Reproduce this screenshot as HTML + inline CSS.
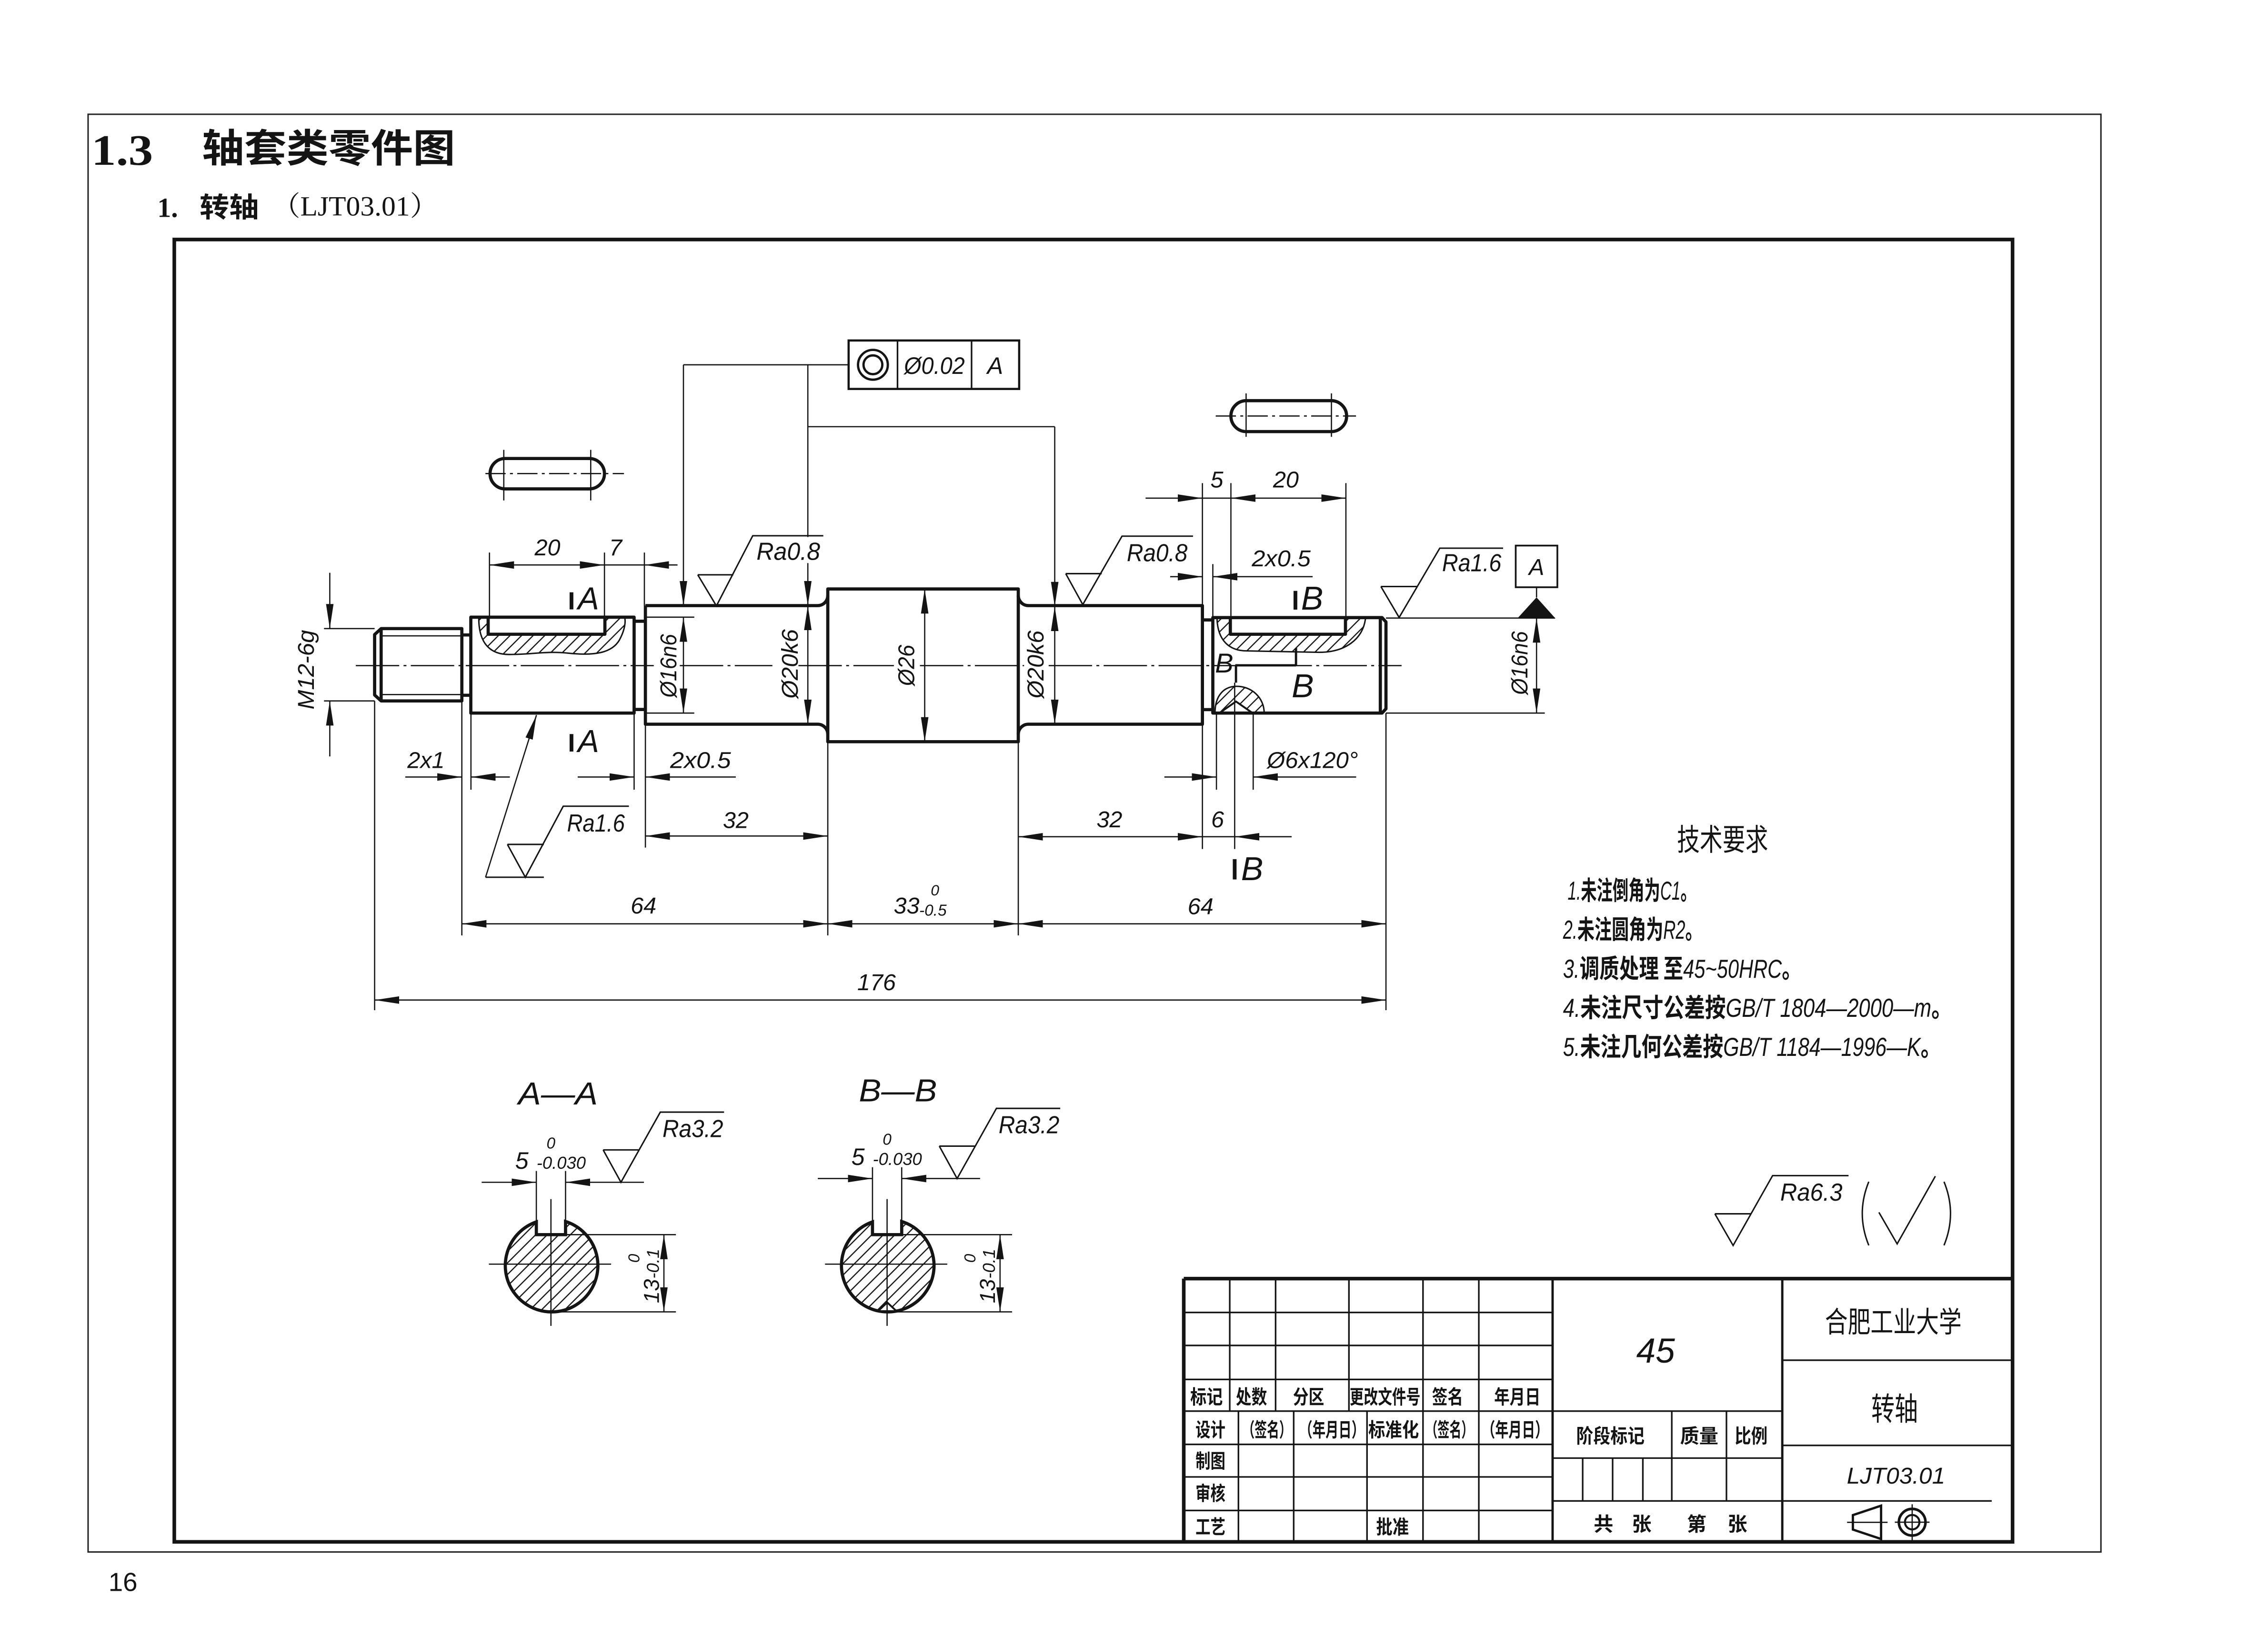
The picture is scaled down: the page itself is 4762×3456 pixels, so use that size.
<!DOCTYPE html>
<html><head><meta charset="utf-8">
<style>
html,body{margin:0;padding:0;background:#fff;width:4762px;height:3456px;overflow:hidden}
svg{display:block}
text{font-family:"Liberation Sans","Noto Sans CJK SC",sans-serif;fill:#141414}
.it{font-style:italic}
.cj{font-family:"Noto Sans CJK SC","WenQuanYi Zen Hei",sans-serif;font-weight:700}
.cr{font-family:"Noto Sans CJK SC","WenQuanYi Zen Hei",sans-serif;font-weight:400}
.k{fill:none;stroke:#141414;stroke-width:2.2;stroke-linejoin:round}
.t{fill:none;stroke:#141414;stroke-width:0.85}
.m{fill:none;stroke:#141414;stroke-width:0.85;marker-end:url(#ar)}
.b{fill:none;stroke:#141414;stroke-width:0.85;marker-start:url(#ar);marker-end:url(#ar)}
.c{fill:none;stroke:#141414;stroke-width:0.85;stroke-dasharray:30 3 2 3}
.g{fill:none;stroke:#141414;stroke-width:1.1}
.r{fill:none;stroke:#141414;stroke-width:1}
</style></head><body>
<svg xmlns="http://www.w3.org/2000/svg" width="4762" height="3456" viewBox="0 0 1568 1138" preserveAspectRatio="none">
<defs>
<marker id="ar" viewBox="0 0 17 6" refX="17" refY="3" markerWidth="17" markerHeight="6" markerUnits="userSpaceOnUse" orient="auto-start-reverse"><path d="M0,0.4 L17,3 L0,5.6 Z" fill="#141414"/></marker>
<pattern id="h" patternUnits="userSpaceOnUse" width="8" height="8"><path d="M0,8 L8,0 M-2,2 L2,-2 M6,10 L10,6" stroke="#141414" stroke-width="0.8"/></pattern>
</defs>
<rect x="0" y="0" width="1568" height="1138" fill="#fff"/>

<!-- page border -->
<rect x="60.9" y="79" width="1391.6" height="994" fill="none" stroke="#222" stroke-width="1"/>
<text x="63.2" y="114" style="font-family:'Liberation Serif',serif;font-weight:700;font-size:30px" textLength="42.6" lengthAdjust="spacingAndGlyphs">1.3</text>
<text x="139.7" y="112" class="cj" style="font-size:27px" textLength="175" lengthAdjust="spacingAndGlyphs">轴套类零件图</text>
<text x="108.8" y="150" style="font-family:'Liberation Serif',serif;font-weight:700;font-size:19px">1.</text>
<text x="138" y="150" class="cj" style="font-size:19px" textLength="41" lengthAdjust="spacingAndGlyphs">转轴</text>
<text x="188" y="149" style="font-family:'Liberation Serif','Noto Serif CJK SC',serif;font-size:19px" textLength="115" lengthAdjust="spacingAndGlyphs">（LJT03.01）</text>
<text x="75" y="1100" style="font-size:18px">16</text>

<!-- drawing frame -->
<rect x="120.5" y="165.6" width="1270.9" height="900.4" fill="none" stroke="#141414" stroke-width="2.5"/>

<!-- ===== main shaft ===== -->
<path class="c" d="M246,460.2 H452 M470,460.2 H534 M552,460.2 H618 M636,460.2 H708 M725,460.2 H969"/>

<!-- thread -->
<path class="k" d="M263.5,434.6 H319.3 V484.6 H263.5 L259,480.5 V438.7 Z M263.5,434.6 V484.6"/>
<path class="t" d="M263.5,439.6 H319.3 M263.5,480.2 H319.3"/>
<path class="k" d="M319.3,439 H325.5 M319.3,480.7 H325.5"/>

<!-- keyway A local section -->
<path fill="url(#h)" d="M331,427.5 C331,446 340,452.5 352,452.5 C368,452.5 378,450 392,451.5 C410,453.5 424,452 429,441 C432,435 432.5,430 432,427.5 Z"/>
<rect fill="#fff" x="337.5" y="427" width="80.7" height="11.5"/>
<path class="r" d="M331,427.5 C331,446 340,452.5 352,452.5 C368,452.5 378,450 392,451.5 C410,453.5 424,452 429,441 C432,435 432.5,430 432,427.5"/>
<path class="k" d="M337.5,427 V438.5 H418.2 V427"/>

<!-- section 2 -->
<path class="k" d="M325.5,426.7 H438.4 V493 H325.5 Z"/>
<path class="k" d="M438.4,429.5 H446.2 M438.4,490.5 H446.2"/>
<!-- section 3 -->
<path class="k" d="M446.2,418.7 H565.3 A7,7 0 0 0 572.3,411.7 M446.2,418.7 V500.7 H565.3 A7,7 0 0 1 572.3,507.7"/>
<!-- section 4 -->
<rect class="k" x="572.3" y="407.2" width="131.7" height="105.6"/>
<!-- section 5 -->
<path class="k" d="M704,411.7 A7,7 0 0 0 711,418.7 H831.3 V500.7 H711 A7,7 0 0 0 704,507.7"/>
<path class="k" d="M831.3,428.6 H838.5 M831.3,490.6 H838.5"/>

<!-- keyway B local section -->
<path fill="url(#h)" d="M841.4,428 C842,443 850,450 862,450 L912,451 C930,451 942,442 944,428 Z"/>
<rect fill="#fff" x="850.6" y="427" width="79.6" height="11.5"/>
<path class="r" d="M841.4,428 C842,443 850,450 862,450 L912,451 C930,451 942,442 944,428"/>
<path class="k" d="M850.6,427 V438.5 H930.2 V427"/>
<!-- centre hole -->
<path fill="url(#h)" d="M840,493 C840,481 846,474.5 855,474.5 C865,474.5 874,482 874,493 Z"/>
<path fill="#fff" stroke="#141414" stroke-width="1.3" d="M843,493 L854.5,485 L866,493 Z"/>
<path class="r" d="M840,493 C840,481 846,474.5 855,474.5 C865,474.5 874,482 874,493"/>
<!-- section 6 -->
<path class="k" d="M838.5,427 H955.5 L958.2,430 V490 L955.5,493 H838.5 Z M954.3,427 V493"/>

<!-- B cut indicator -->
<path fill="none" stroke="#141414" stroke-width="1.6" d="M854,460 H896 M896,448 V460 M854.5,460 V472"/>
<text x="840" y="465" class="it" style="font-size:19px">B</text>
<text x="893" y="482" class="it" style="font-size:23px">B</text>

<!-- section marks -->
<path fill="none" stroke="#141414" stroke-width="2.6" d="M395.1,409.5 V421.3 M395.1,507.5 V519.6 M895.6,408.5 V421.5 M853.6,594 V608"/>
<text x="399.5" y="421.3" class="it" style="font-size:22px">A</text>
<text x="399.5" y="520" class="it" style="font-size:22px">A</text>
<text x="899.5" y="421.5" class="it" style="font-size:23px">B</text>
<text x="858" y="608.5" class="it" style="font-size:23px">B</text>

<!-- keyway top views -->
<rect class="k" x="338.8" y="317" width="79.1" height="21" rx="10.5" ry="10.5"/>
<path class="t" d="M348.3,311 V346 M408.4,311 V346"/>
<path class="c" d="M335.6,327.4 H431.4" style="stroke-dasharray:14 3 2 3"/>
<rect class="k" x="851" y="277" width="80" height="21.4" rx="10.7" ry="10.7"/>
<path class="t" d="M861.5,272 V302 M920.5,272 V302"/>
<path class="c" d="M840.5,287.6 H937.5" style="stroke-dasharray:14 3 2 3"/>

<!-- GD&T frame -->
<rect x="586.7" y="235.4" width="117.9" height="33.5" fill="none" stroke="#141414" stroke-width="1.5"/>
<path class="g" d="M620.5,235.4 V268.9 M671.7,235.4 V268.9"/>
<circle cx="603.5" cy="252.2" r="10.3" fill="none" stroke="#141414" stroke-width="1.6"/>
<circle cx="603.5" cy="252.2" r="6.5" fill="none" stroke="#141414" stroke-width="1.6"/>
<text x="646" y="258.5" text-anchor="middle" class="it" style="font-size:16.5px" textLength="42" lengthAdjust="spacingAndGlyphs">Ø0.02</text>
<text x="688" y="258.5" text-anchor="middle" class="it" style="font-size:16.5px">A</text>
<path class="t" d="M586.7,252.2 H472.5 M558.5,295 H729.2"/>
<path class="m" d="M472.5,252.2 V418.7"/>
<path class="m" d="M558.5,252.2 V418.7"/>
<path class="m" d="M729.2,295 V419.3"/>

<!-- diameter dims -->
<path class="t" d="M224,434.6 H259 M224,484.6 H259"/>
<path class="m" d="M228,396 V434.6"/>
<path class="m" d="M228,523 V484.6"/>
<text transform="translate(217,463) rotate(-90)" text-anchor="middle" class="it" style="font-size:16px" textLength="55" lengthAdjust="spacingAndGlyphs">M12-6g</text>

<path class="t" d="M446.2,426.7 H480 M446.2,493 H480"/>
<path class="b" d="M472.5,426.7 V493"/>
<text transform="translate(467.5,460.3) rotate(-90)" text-anchor="middle" class="it" style="font-size:16px" textLength="44" lengthAdjust="spacingAndGlyphs">Ø16n6</text>
<path class="b" d="M558.5,418.7 V500.7"/>
<text transform="translate(551.5,459) rotate(-90)" text-anchor="middle" class="it" style="font-size:16px" textLength="48" lengthAdjust="spacingAndGlyphs">Ø20k6</text>
<path class="b" d="M639.3,407.2 V512.8"/>
<text transform="translate(632,460) rotate(-90)" text-anchor="middle" class="it" style="font-size:16px" textLength="28.5" lengthAdjust="spacingAndGlyphs">Ø26</text>
<path class="b" d="M729.2,419.3 V500.7"/>
<text transform="translate(721.5,459.4) rotate(-90)" text-anchor="middle" class="it" style="font-size:16px" textLength="47" lengthAdjust="spacingAndGlyphs">Ø20k6</text>
<path class="t" d="M958.2,427.3 H1075 M958.2,493 H1068"/>
<path class="b" d="M1062.3,427.3 V493"/>
<text transform="translate(1056,458.4) rotate(-90)" text-anchor="middle" class="it" style="font-size:16px" textLength="44" lengthAdjust="spacingAndGlyphs">Ø16n6</text>

<!-- datum A -->
<rect x="1047.9" y="377.2" width="28.8" height="28.8" fill="none" stroke="#141414" stroke-width="1.2"/>
<text x="1062.3" y="397.5" text-anchor="middle" class="it" style="font-size:16px">A</text>
<path class="t" d="M1062.3,406 V413"/>
<path d="M1049,427.6 L1075.4,427.6 L1062.3,413 Z" fill="#141414"/>

<!-- top dims left -->
<path class="t" d="M338.4,382 V427 M417.9,382 V427 M445.5,382 V418.7 M417.9,390.6 H445.5"/>
<path class="b" d="M338.4,390.6 H417.9"/>
<path class="m" d="M468.4,390.6 H445.5"/>
<text x="378.5" y="384" text-anchor="middle" class="it" style="font-size:16px">20</text>
<text x="425.6" y="384" text-anchor="middle" class="it" style="font-size:16px">7</text>

<!-- top dims right -->
<path class="t" d="M831.3,334 V419.3 M851,334 V427 M930.5,334 V427 M831.3,344.4 H851 M838.5,390 V427"/>
<path class="m" d="M792,344.4 H831.3"/>
<path class="b" d="M851,344.4 H930.5"/>
<text x="841.3" y="337" text-anchor="middle" class="it" style="font-size:16px">5</text>
<text x="889" y="337" text-anchor="middle" class="it" style="font-size:16px">20</text>
<path class="m" d="M809,398.7 H831.3"/>
<path class="m" d="M907.5,398.7 H838.5"/>
<text x="865.4" y="391.5" class="it" style="font-size:16px" textLength="40.7" lengthAdjust="spacingAndGlyphs">2x0.5</text>

<!-- bottom dims left -->
<path class="t" d="M325.6,493 V546 M319.3,484.6 V646.7 M259,484.6 V698.4 M438.4,493 V546 M446.2,500.7 V586 M572.3,512.8 V646.7 M704,512.8 V646.7"/>
<path class="m" d="M280.2,537.2 H319.3"/>
<path class="m" d="M352.5,537.2 H325.6"/>
<text x="294.5" y="531" text-anchor="middle" class="it" style="font-size:16px">2x1</text>
<path class="m" d="M399.4,537.2 H438.4"/>
<path class="m" d="M508.7,537.2 H446.2"/>
<text x="463.3" y="531" class="it" style="font-size:16px" textLength="42" lengthAdjust="spacingAndGlyphs">2x0.5</text>
<path class="b" d="M446.2,578 H572.3"/>
<text x="508.7" y="572.5" text-anchor="middle" class="it" style="font-size:16px">32</text>
<path class="b" d="M319.3,638.7 H572.3"/>
<text x="444.9" y="631.5" text-anchor="middle" class="it" style="font-size:16px">64</text>
<path class="b" d="M572.3,638.7 H704"/>
<text x="617.9" y="631.5" class="it" style="font-size:16px">33</text>
<text x="635.5" y="633" class="it" style="font-size:11px">-0.5</text>
<text x="646.4" y="619" text-anchor="middle" class="it" style="font-size:10.5px">0</text>
<path class="b" d="M704,638.7 H958.2"/>
<text x="830" y="632" text-anchor="middle" class="it" style="font-size:16px">64</text>
<path class="b" d="M259,691.4 H958.2"/>
<text x="606" y="684.5" text-anchor="middle" class="it" style="font-size:16px">176</text>

<!-- bottom dims right -->
<path class="t" d="M841,493 V546 M866.4,493 V546 M831.3,500.7 V587 M853.6,472 V587 M958.2,493 V698.4 M831.3,578.5 H853.6"/>
<path class="m" d="M805,537.2 H841"/>
<path class="m" d="M937.6,537.2 H866.4"/>
<text x="875.9" y="531" class="it" style="font-size:16px" textLength="63" lengthAdjust="spacingAndGlyphs">Ø6x120°</text>
<path class="b" d="M704,578.5 H831.3"/>
<path class="m" d="M893,578.5 H853.6"/>
<text x="767" y="572" text-anchor="middle" class="it" style="font-size:16px">32</text>
<text x="841.8" y="572" text-anchor="middle" class="it" style="font-size:16px">6</text>

<!-- roughness symbols -->
<rect x="552.5" y="371.3" width="12" height="18" fill="#fff"/>
<path class="r" d="M482.4,397.4 H507 M482.4,397.4 L495.3,418.9 L520.4,370.4 H569.2"/>
<text x="523" y="387" class="it" style="font-size:17px" textLength="44" lengthAdjust="spacingAndGlyphs">Ra0.8</text>
<path class="r" d="M736.8,396.6 H761.7 M736.8,396.6 L748.6,418 L775.7,370.7 H824.8"/>
<text x="779" y="388" class="it" style="font-size:17px" textLength="42" lengthAdjust="spacingAndGlyphs">Ra0.8</text>
<path class="r" d="M954.7,405.5 H979.6 M954.7,405.5 L967.3,426.9 L995.4,379 H1039.2"/>
<text x="997" y="395" class="it" style="font-size:17px" textLength="41" lengthAdjust="spacingAndGlyphs">Ra1.6</text>
<path class="m" d="M335.7,606.5 L370.9,494.4"/>
<path class="r" d="M335.7,606.5 H376 M350.8,583.8 H376 M350.8,583.8 L363.2,606.5 L389.4,557.4 H434.8"/>
<text x="392" y="575" class="it" style="font-size:17px" textLength="40" lengthAdjust="spacingAndGlyphs">Ra1.6</text>

<!-- ===== section A-A ===== -->
<text x="358.3" y="763.6" class="it" style="font-size:22px" textLength="55" lengthAdjust="spacingAndGlyphs">A—A</text>
<g>
<path fill="url(#h)" stroke="#141414" stroke-width="2.2" d="M370.8,844.8 V853.6 H391 V844.5 A32,32 0 1 1 370.8,844.8 Z"/>
<path class="t" d="M338,874 H422.5 M380.9,829 V916.7 M391,853.6 H467.3 M381.3,907 H467.3"/>
<path class="b" d="M459,853.6 V907"/>
</g>
<g transform="translate(455.5,901) rotate(-90)">
<text x="0" y="0" class="it" style="font-size:15px">13</text>
<text x="17" y="0" class="it" style="font-size:12px">-0.1</text>
<text x="28" y="-13.5" class="it" style="font-size:11px">0</text>
</g>
<path class="t" d="M370.8,809.6 V844.8 M391,809.6 V844.5"/>
<path class="m" d="M333,817.4 H370.8"/>
<path class="m" d="M445.2,817.4 H391"/>
<text x="360.8" y="808" text-anchor="middle" class="it" style="font-size:16.5px">5</text>
<text x="371" y="808" class="it" style="font-size:12px" textLength="34" lengthAdjust="spacingAndGlyphs">-0.030</text>
<text x="380.9" y="794" text-anchor="middle" class="it" style="font-size:11px">0</text>
<path class="r" d="M417,795 H441.4 M417,795 L429.3,817.4 L456.5,768.9 H500.6"/>
<text x="458" y="786.2" class="it" style="font-size:17px" textLength="42" lengthAdjust="spacingAndGlyphs">Ra3.2</text>

<!-- ===== section B-B ===== -->
<text x="593.8" y="761.5" class="it" style="font-size:22px" textLength="54" lengthAdjust="spacingAndGlyphs">B—B</text>
<g transform="translate(232.4,0)">
<path fill="url(#h)" stroke="#141414" stroke-width="2.2" d="M370.8,844.8 V853.6 H391 V844.5 A32,32 0 1 1 370.8,844.8 Z"/>
<path fill="#fff" stroke="#141414" stroke-width="1.3" d="M374.6,906.5 L381,900.5 L387.4,906.5 Z"/>
<path class="t" d="M338,874 H422.5 M380.9,829 V916.7 M391,853.6 H467.3 M381.3,907 H467.3"/>
<path class="b" d="M459,853.6 V907"/>
</g>
<g transform="translate(687.9,901) rotate(-90)">
<text x="0" y="0" class="it" style="font-size:15px">13</text>
<text x="17" y="0" class="it" style="font-size:12px">-0.1</text>
<text x="28" y="-13.5" class="it" style="font-size:11px">0</text>
</g>
<g transform="translate(232.4,-2.6)">
<path class="t" d="M370.8,809.6 V847.4 M391,809.6 V847.1"/>
<path class="m" d="M333,817.4 H370.8"/>
<path class="m" d="M445.2,817.4 H391"/>
<text x="360.8" y="808" text-anchor="middle" class="it" style="font-size:16.5px">5</text>
<text x="371" y="808" class="it" style="font-size:12px" textLength="34" lengthAdjust="spacingAndGlyphs">-0.030</text>
<text x="380.9" y="794" text-anchor="middle" class="it" style="font-size:11px">0</text>
<path class="r" d="M417,795 H441.4 M417,795 L429.3,817.4 L456.5,768.9 H500.6"/>
<text x="458" y="786.2" class="it" style="font-size:17px" textLength="42" lengthAdjust="spacingAndGlyphs">Ra3.2</text>
</g>

<!-- ===== technical requirements ===== -->
<text x="1159.4" y="588" class="cr" style="font-size:21px" textLength="63" lengthAdjust="spacingAndGlyphs">技术要求</text>
<text x="1083.8" y="622" style="font-size:18px" textLength="89" lengthAdjust="spacingAndGlyphs"><tspan class="it">1.</tspan><tspan class="cj">未注倒角为</tspan><tspan class="it">C1</tspan><tspan class="cj">。</tspan></text>
<text x="1080.6" y="649" style="font-size:18px" textLength="96.4" lengthAdjust="spacingAndGlyphs"><tspan class="it">2.</tspan><tspan class="cj">未注圆角为</tspan><tspan class="it">R2</tspan><tspan class="cj">。</tspan></text>
<text x="1080.6" y="676" style="font-size:18px" textLength="165" lengthAdjust="spacingAndGlyphs"><tspan class="it">3.</tspan><tspan class="cj">调质处理 至</tspan><tspan class="it">45~50HRC</tspan><tspan class="cj">。</tspan></text>
<text x="1080.6" y="703" style="font-size:18px" textLength="269" lengthAdjust="spacingAndGlyphs"><tspan class="it">4.</tspan><tspan class="cj">未注尺寸公差按</tspan><tspan class="it">GB/T 1804—2000—m</tspan><tspan class="cj">。</tspan></text>
<text x="1080.6" y="730" style="font-size:18px" textLength="261.4" lengthAdjust="spacingAndGlyphs"><tspan class="it">5.</tspan><tspan class="cj">未注几何公差按</tspan><tspan class="it">GB/T 1184—1996—K</tspan><tspan class="cj">。</tspan></text>

<!-- general roughness -->
<path class="r" d="M1185.6,839.2 H1210.8 M1185.6,839.2 L1198.2,861.1 L1225.5,812.8 H1278"/>
<text x="1230.8" y="830.2" class="it" style="font-size:17px" textLength="43" lengthAdjust="spacingAndGlyphs">Ra6.3</text>
<path class="r" d="M1292,817 Q1283,839 1292,861 M1344,817 Q1353,839 1344,861 M1299,838.2 L1311.6,860 L1338,813.2"/>

<!-- ===== title block ===== -->
<path fill="none" stroke="#141414" stroke-width="2.5" d="M818.4,884 H1391.4 M818.4,884 V1066"/>
<path class="g" d="M818.4,907.4 H1073.4 M818.4,930.2 H1073.4 M818.4,953.7 H1073.4 M818.4,975.6 H1232.2 M818.4,998.6 H1073.4 M818.4,1021.1 H1073.4 M818.4,1044.3 H1073.4"/>
<path class="g" d="M850.2,884 V975.6 M881.9,884 V975.6 M932.6,884 V975.6 M983.8,884 V1066 M1022.4,884 V1066 M856.2,975.6 V1066 M894.4,975.6 V1066 M945.1,975.6 V1066"/>
<path fill="none" stroke="#141414" stroke-width="1.6" d="M1073.4,884 V1066 M1232.2,884 V1066"/>
<path class="g" d="M1073.4,1008.1 H1232.2 M1073.4,1037.7 H1377 M1155.8,975.6 V1037.7 M1193.6,975.6 V1037.7 M1094.2,1008.1 V1037.7 M1114.9,1008.1 V1037.7 M1135.8,1008.1 V1037.7 M1232.2,940.4 H1391.4 M1232.2,999.3 H1391.4"/>

<g class="cj" style="font-size:13.5px">
<text x="822.9" y="970.5" textLength="22.5" lengthAdjust="spacingAndGlyphs">标记</text>
<text x="854.4" y="970.5" textLength="21.6" lengthAdjust="spacingAndGlyphs">处数</text>
<text x="893.9" y="970.5" textLength="21.6" lengthAdjust="spacingAndGlyphs">分区</text>
<text x="933.1" y="970.5" textLength="48.9" lengthAdjust="spacingAndGlyphs">更改文件号</text>
<text x="990" y="970.5" textLength="21.6" lengthAdjust="spacingAndGlyphs">签名</text>
<text x="1033" y="970.5" textLength="32" lengthAdjust="spacingAndGlyphs">年月日</text>
<text x="826.5" y="993.2" textLength="20.7" lengthAdjust="spacingAndGlyphs">设计</text>
<text x="858.9" y="993.2" textLength="34" lengthAdjust="spacingAndGlyphs">（签名）</text>
<text x="898.4" y="993.2" textLength="45" lengthAdjust="spacingAndGlyphs">（年月日）</text>
<text x="946" y="993.2" textLength="35" lengthAdjust="spacingAndGlyphs">标准化</text>
<text x="985.6" y="993.2" textLength="33" lengthAdjust="spacingAndGlyphs">（签名）</text>
<text x="1024.5" y="993.2" textLength="46" lengthAdjust="spacingAndGlyphs">（年月日）</text>
<text x="826.5" y="1014.8" textLength="20.7" lengthAdjust="spacingAndGlyphs">制图</text>
<text x="826.5" y="1037.2" textLength="20.7" lengthAdjust="spacingAndGlyphs">审核</text>
<text x="826.5" y="1060.5" textLength="20.7" lengthAdjust="spacingAndGlyphs">工艺</text>
<text x="951.4" y="1060.5" textLength="22.6" lengthAdjust="spacingAndGlyphs">批准</text>
<text x="1089.7" y="997.5" textLength="47.3" lengthAdjust="spacingAndGlyphs">阶段标记</text>
<text x="1161.5" y="997.5" textLength="26.5" lengthAdjust="spacingAndGlyphs">质量</text>
<text x="1199.3" y="997.5" textLength="22.7" lengthAdjust="spacingAndGlyphs">比例</text>
<text x="1108.6" y="1058.5" text-anchor="middle">共</text>
<text x="1135" y="1058.5" text-anchor="middle">张</text>
<text x="1173" y="1058.5" text-anchor="middle">第</text>
<text x="1201.2" y="1058.5" text-anchor="middle">张</text>
</g>
<text x="1144.6" y="942" text-anchor="middle" class="it" style="font-size:24px">45</text>
<text x="1261.7" y="921" class="cr" style="font-size:20px" textLength="94.5" lengthAdjust="spacingAndGlyphs">合肥工业大学</text>
<text x="1293.7" y="982" class="cr" style="font-size:22px" textLength="32.3" lengthAdjust="spacingAndGlyphs">转轴</text>
<text x="1276.8" y="1025.7" class="it" style="font-size:16px" textLength="68" lengthAdjust="spacingAndGlyphs">LJT03.01</text>

<!-- projection symbol -->
<path fill="none" stroke="#141414" stroke-width="1.6" d="M1281,1047.5 L1300.5,1041 V1064 L1281,1057.5 Z"/>
<path class="t" d="M1277,1052.5 H1305 M1310,1052.4 H1334 M1322,1040 V1065"/>
<circle cx="1322" cy="1052.4" r="9.2" fill="none" stroke="#141414" stroke-width="1.8"/>
<circle cx="1322" cy="1052.4" r="5" fill="none" stroke="#141414" stroke-width="1.4"/>
</svg>
</body></html>
